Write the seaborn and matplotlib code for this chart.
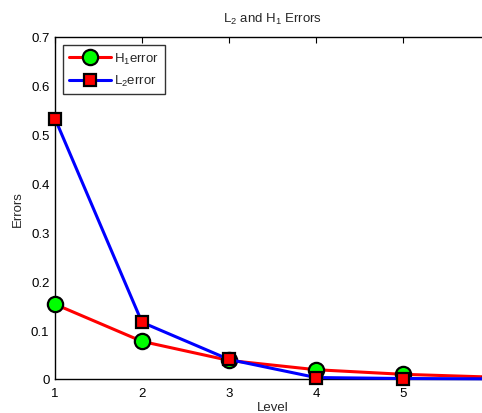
import numpy as np
import pandas as pd
import matplotlib
matplotlib.use('Agg')
import matplotlib.pyplot as plt
import seaborn as sns

# error values per refinement level
levels = [1, 2, 3, 4, 5, 6]
h1_error = [0.153, 0.077, 0.038, 0.019, 0.0096, 0.004]
l2_error = [0.533, 0.116, 0.040, 0.003, 0.001, 0.0003]
x_ticks = [1, 2, 3, 4, 5]
y_ticks = [0, 0.1, 0.2, 0.3, 0.4, 0.5, 0.6, 0.7]

sns.set_style('white')
plt.rcParams['font.family'] = ['Liberation Sans', 'DejaVu Sans']
plt.rcParams['mathtext.default'] = 'regular'

df = pd.DataFrame({'level': levels, 'h1': h1_error, 'l2': l2_error})

fig = plt.figure(figsize=(4.82, 4.14), dpi=100)
# axes run past the right edge, as in the cropped original
ax = fig.add_axes([55 / 482, 34 / 414, 435 / 482, 342 / 414])

sns.lineplot(data=df, x='level', y='h1', ax=ax, color='red', lw=2.2,
             marker='o', markersize=11, markerfacecolor='#00ff00',
             markeredgecolor='black', markeredgewidth=1.6,
             label='H$_1$error', clip_on=False, zorder=3)
sns.lineplot(data=df, x='level', y='l2', ax=ax, color='blue', lw=2.2,
             marker='s', markersize=9, markerfacecolor='red',
             markeredgecolor='black', markeredgewidth=1.6,
             label='L$_2$error', clip_on=False, zorder=4)

ax.set_xlim(1, 6)
ax.set_ylim(0, 0.7)
ax.set_xticks(x_ticks)
ax.set_yticks(y_ticks)
ax.set_yticklabels(['0', '0.1', '0.2', '0.3', '0.4', '0.5', '0.6', '0.7'])
ax.tick_params(direction='in', length=4, width=0.8, labelsize=9.5,
               top=True, right=True, colors='black', pad=4)
ax.tick_params(axis='x', pad=6)
for s in ax.spines.values():
    s.set_visible(True)
    s.set_color('black')
    s.set_linewidth(1.0)

ax.set_xlabel('Level', fontsize=9.5, labelpad=1)
ax.set_ylabel('Errors', fontsize=9.5, labelpad=5)
ax.set_title('L$_2$ and H$_1$ Errors', fontsize=9.5, pad=11)

leg = ax.legend(loc='upper left', fontsize=9.5, frameon=True, fancybox=False,
                edgecolor='black', handlelength=3.2, handletextpad=0.2,
                borderaxespad=0.6, borderpad=0.45, labelspacing=0.55)
leg.get_frame().set_linewidth(1.0)

fig.savefig('out.png', dpi=100)
